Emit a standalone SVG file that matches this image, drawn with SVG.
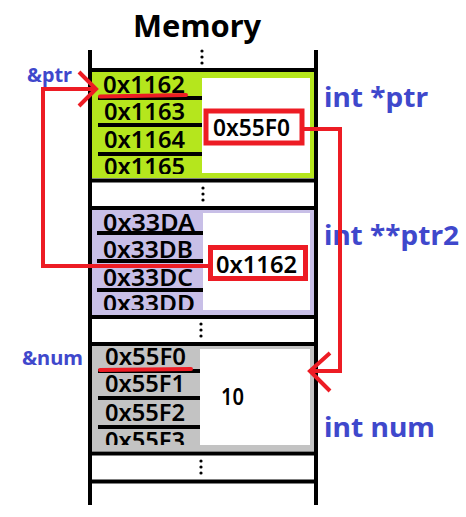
<svg xmlns="http://www.w3.org/2000/svg" width="466" height="517" viewBox="0 0 466 517">
<style>
.bl{stroke:#000;stroke-width:4;fill:none}
.addr{font-family:"Noto Sans","DejaVu Sans",sans-serif;font-weight:600;font-size:24px;fill:#000}
.val{font-family:"Noto Sans","DejaVu Sans",sans-serif;font-weight:600;font-size:24px;fill:#000}
.lab{font-family:"Noto Sans","DejaVu Sans",sans-serif;font-weight:700;fill:#3f48cc}
.red{stroke:#ed1c24;stroke-width:4;fill:none}
</style>
<defs>
<clipPath id="cg"><rect x="92" y="72" width="222" height="102"/></clipPath>
<clipPath id="cp"><rect x="92" y="210" width="222" height="100"/></clipPath>
<clipPath id="cy"><rect x="92" y="346" width="222" height="99"/></clipPath>
<g id="dots3"><circle cx="0" cy="0" r="1.6"/><circle cx="0" cy="6" r="1.6"/><circle cx="0" cy="12" r="1.6"/></g>
</defs>
<rect width="466" height="517" fill="#fff"/>
<text x="197" y="37" text-anchor="middle" font-family="Noto Sans, DejaVu Sans, sans-serif" font-weight="700" font-size="31" textLength="128" lengthAdjust="spacingAndGlyphs">Memory</text>

<g id="frame">
<path class="bl" d="M90,50 V505 M316,50 V505 M88,70 H318 M88,180.5 H318 M88,208 H318 M88,317 H318 M88,344 H318 M88,453.5 H318 M88,481.5 H318"/>
<use href="#dots3" x="202" y="51"/>
<use href="#dots3" x="203" y="188"/>
<use href="#dots3" x="201" y="324"/>
<use href="#dots3" x="201" y="461"/>
</g>

<g id="ptr-block">
<rect x="92" y="72" width="222" height="106" fill="#b5e61d"/>
<rect x="202" y="78" width="108" height="95" fill="#fff"/>
<path class="bl" d="M98,98 H202 M98,125 H202 M98,154 H202"/>
<g clip-path="url(#cg)">
<text class="addr" x="103" y="93" textLength="82" lengthAdjust="spacingAndGlyphs">0x1162</text>
<text class="addr" x="104" y="120" textLength="81" lengthAdjust="spacingAndGlyphs">0x1163</text>
<text class="addr" x="104" y="148" textLength="81" lengthAdjust="spacingAndGlyphs">0x1164</text>
<text class="addr" x="104" y="175" textLength="81" lengthAdjust="spacingAndGlyphs">0x1165</text>
</g>
<rect x="206" y="111" width="96" height="32" fill="#fff" stroke="#ed1c24" stroke-width="5"/>
<text class="val" x="213" y="136" textLength="77" lengthAdjust="spacingAndGlyphs">0x55F0</text>
</g>

<g id="ptr2-block">
<rect x="92" y="210" width="222" height="105" fill="#c8bfe7"/>
<rect x="203" y="213" width="107" height="97" fill="#fff"/>
<path class="bl" d="M97,233 H203 M97,261 H203 M97,290 H203"/>
<g clip-path="url(#cp)">
<text class="addr" x="103" y="231" textLength="92" lengthAdjust="spacingAndGlyphs">0x33DA</text>
<text class="addr" x="103" y="258" textLength="90" lengthAdjust="spacingAndGlyphs">0x33DB</text>
<text class="addr" x="103" y="286" textLength="90" lengthAdjust="spacingAndGlyphs">0x33DC</text>
<text class="addr" x="103" y="312" textLength="92" lengthAdjust="spacingAndGlyphs">0x33DD</text>
</g>
<rect x="210.5" y="247.5" width="95" height="31" fill="#fff" stroke="#ed1c24" stroke-width="5"/>
<text class="val" x="216" y="273" textLength="81" lengthAdjust="spacingAndGlyphs">0x1162</text>
</g>

<g id="num-block">
<rect x="92" y="346" width="222" height="105" fill="#c3c3c3"/>
<rect x="200" y="349" width="110" height="96" fill="#fff"/>
<path class="bl" d="M98,371 H200 M98,398 H200 M98,427 H200"/>
<g clip-path="url(#cy)">
<text class="addr" x="105" y="365" textLength="81" lengthAdjust="spacingAndGlyphs">0x55F0</text>
<text class="addr" x="105" y="392" textLength="80" lengthAdjust="spacingAndGlyphs">0x55F1</text>
<text class="addr" x="105" y="421" textLength="80" lengthAdjust="spacingAndGlyphs">0x55F2</text>
<text class="addr" x="105" y="449" textLength="80" lengthAdjust="spacingAndGlyphs">0x55F3</text>
</g>
<text class="val" x="221" y="405" font-weight="700" textLength="23" lengthAdjust="spacingAndGlyphs">10</text>
</g>

<g id="labels">
<text class="lab" x="27" y="82" font-size="19" textLength="45" lengthAdjust="spacingAndGlyphs">&amp;ptr</text>
<text class="lab" x="22" y="365" font-size="19" textLength="61" lengthAdjust="spacingAndGlyphs">&amp;num</text>
<text class="lab" x="324" y="107" font-size="26" textLength="104" lengthAdjust="spacingAndGlyphs">int *ptr</text>
<text class="lab" x="324" y="245" font-size="26" textLength="135" lengthAdjust="spacingAndGlyphs">int **ptr2</text>
<text class="lab" x="324" y="437" font-size="26" textLength="111" lengthAdjust="spacingAndGlyphs">int num</text>
</g>

<g id="connectors">
<path class="red" stroke-linecap="round" stroke-width="3" d="M100,96.5 L186,95"/>
<path class="red" stroke-linecap="round" stroke-width="3" d="M100,370 L191,369"/>
<path class="red" d="M304,129 H340 V371 H310"/>
<path class="red" d="M330,353 L310,371 L330,391"/>
<path class="red" d="M208,266 H43 V89 H95"/>
<path class="red" d="M79,72 L96,89 L79,106"/>
</g>
</svg>
